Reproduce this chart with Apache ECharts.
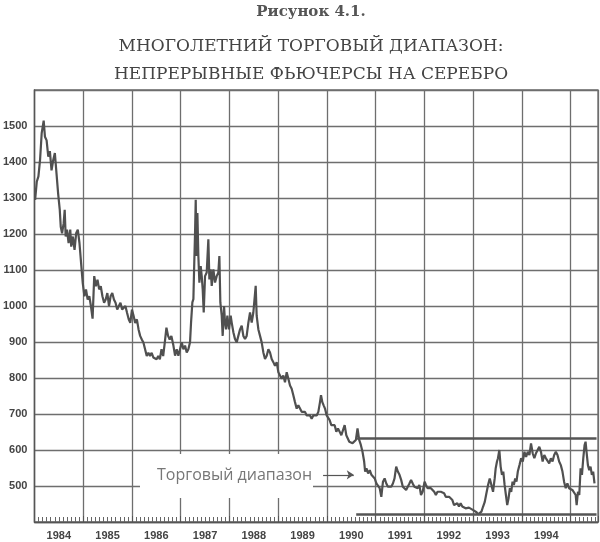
<!DOCTYPE html>
<html>
<head>
<meta charset="utf-8">
<script src="https://cdn.jsdelivr.net/npm/echarts@6/dist/echarts.min.js"></script>
<style>
html,body{margin:0;padding:0;background:#fff;}
#chart{width:600px;height:542px;}
</style>
</head>
<body>
<div id="chart"></div>
<script>
// ---- data ----
var figureLabel = 'Рисунок 4.1.';
var titleLines = ['МНОГОЛЕТНИЙ ТОРГОВЫЙ ДИАПАЗОН:', 'НЕПРЕРЫВНЫЕ ФЬЮЧЕРСЫ НА СЕРЕБРО'];
var annotationText = 'Торговый диапазон';
var yearLabels = [1984, 1985, 1986, 1987, 1988, 1989, 1990, 1991, 1992, 1993, 1994];
var yTickLabels = [500, 600, 700, 800, 900, 1000, 1100, 1200, 1300, 1400, 1500];

// time in fractional years
var dates = [
 1984.013,1984.047,1984.081,1984.114,1984.148,1984.189,1984.215,1984.249,1984.283,1984.316,
 1984.350,1984.384,1984.418,1984.451,1984.485,1984.519,1984.539,1984.566,1984.599,1984.620,
 1984.640,1984.667,1984.700,1984.734,1984.754,1984.788,1984.822,1984.855,1984.889,1984.923,
 1984.956,1984.990,1985.024,1985.057,1985.091,1985.125,1985.158,1985.192,1985.226,1985.259,
 1985.293,1985.327,1985.360,1985.394,1985.428,1985.461,1985.495,1985.529,1985.562,1985.596,
 1985.630,1985.663,1985.697,1985.731,1985.764,1985.798,1985.832,1985.865,1985.899,1985.933,
 1985.966,1986.000,1986.034,1986.067,1986.101,1986.135,1986.168,1986.202,1986.236,1986.269,
 1986.303,1986.337,1986.370,1986.404,1986.438,1986.471,1986.505,1986.539,1986.572,1986.606,
 1986.640,1986.673,1986.707,1986.741,1986.774,1986.808,
 1986.850,1986.884,1986.918,1986.952,1986.986,1987.021,1987.055,1987.089,1987.123,1987.157,
 1987.191,1987.212,1987.239,1987.260,1987.273,1987.294,1987.308,1987.321,1987.342,1987.362,
 1987.383,1987.410,1987.431,1987.451,1987.472,1987.499,1987.533,1987.567,1987.588,1987.615,
 1987.636,1987.670,1987.704,1987.738,1987.772,1987.793,1987.813,1987.841,1987.861,1987.889,
 1987.909,1987.930,1987.957,1987.991,1988.025,1988.046,1988.080,1988.114,1988.148,1988.182,
 1988.217,1988.251,1988.285,1988.319,1988.353,1988.388,1988.422,1988.456,1988.490,1988.538,
 1988.558,1988.593,1988.627,1988.661,1988.695,1988.729,1988.764,1988.798,1988.832,1988.866,
 1988.900,1988.934,1988.969,1989.003,1989.037,1989.071,1989.105,1989.139,1989.174,1989.208,
 1989.242,1989.276,1989.310,1989.344,1989.379,1989.413,1989.447,1989.481,1989.515,1989.550,
 1989.584,1989.618,1989.652,1989.686,1989.720,1989.755,1989.789,1989.823,1989.857,1989.878,
 1989.905,1989.932,1989.960,1989.994,
 1990.055,1990.089,1990.158,1990.192,1990.226,1990.260,1990.295,1990.329,1990.363,1990.397,
 1990.458,1990.492,1990.525,1990.559,1990.593,1990.627,1990.661,1990.695,1990.729,1990.763,
 1990.783,1990.810,1990.844,1990.878,1990.912,1990.946,1990.980,1991.014,1991.047,1991.081,
 1991.115,1991.149,1991.183,1991.217,1991.251,1991.285,1991.319,1991.353,1991.386,1991.420,
 1991.454,1991.488,1991.522,1991.556,1991.590,1991.624,1991.658,1991.692,1991.725,1991.759,
 1991.793,1991.827,1991.861,1991.895,1991.929,1991.963,1992.003,1992.031,1992.064,1992.098,
 1992.132,1992.166,1992.200,1992.234,1992.268,1992.302,1992.336,1992.369,1992.403,1992.437,
 1992.471,1992.505,1992.539,1992.573,1992.607,1992.641,1992.675,1992.708,1992.742,1992.776,
 1992.810,1992.844,1992.878,1992.912,1992.946,1993.000,1993.034,1993.068,1993.102,1993.136,
 1993.169,1993.203,1993.237,1993.271,1993.305,1993.339,1993.373,1993.407,1993.441,1993.461,
 1993.488,1993.508,1993.536,1993.563,1993.590,1993.617,1993.644,1993.671,1993.698,1993.725,
 1993.753,1993.780,1993.807,1993.834,1993.861,1993.888,1993.915,1993.949,1993.983,1994.017,
 1994.051,1994.085,1994.119,1994.153,1994.186,1994.220,1994.254,1994.288,1994.322,1994.356,
 1994.390,1994.424,1994.458,1994.492,1994.525,1994.559,1994.593,1994.627,1994.661,1994.695,
 1994.729,1994.763,1994.797,1994.831,1994.864,1994.898,1994.932,1994.966,1995.000,1995.034,
 1995.068,1995.102,1995.122,1995.149,1995.176,1995.203,1995.231,1995.258,1995.285,1995.305,
 1995.325,1995.353,1995.380,1995.407,1995.434,1995.461,1995.488
];
var prices = [
 1295,1345,1360,1405,1480,1515,1470,1460,1415,1430,
 1377,1405,1425,1370,1313,1267,1220,1202,1230,1267,
 1193,1212,1175,1212,1165,1193,1156,1202,1212,1175,
 1120,1064,1027,1046,1018,1027,1000,965,1083,1055,
 1073,1046,1055,1027,1009,1018,1036,1000,1027,1036,
 1018,1009,990,1000,1009,990,990,1000,981,963,
 953,990,972,953,963,935,917,907,898,880,
 861,870,861,870,857,861,852,861,852,880,
 861,898,940,917,907,917,
 890,862,880,862,880,899,880,890,871,880,
 899,954,1010,1019,1093,1203,1295,1139,1258,1139,
 1065,1111,1083,1046,982,1083,1093,1185,1074,1102,
 1056,1102,1065,1083,1093,1139,1010,973,917,1000,
 954,935,973,935,973,954,927,908,899,917,
 935,945,917,908,917,954,982,954,982,1056,
 973,935,917,899,871,853,862,880,871,853,
 844,834,844,816,807,798,807,788,816,798,
 779,770,752,733,715,724,715,706,710,706,
 696,701,696,687,696,692,696,706,733,752,
 733,724,715,696,
 683,669,669,651,660,651,641,655,669,641,
 623,628,619,623,628,660,628,614,595,568,
 540,549,535,544,531,535,521,507,503,494,
 470,512,521,507,498,503,498,507,521,554,
 540,531,517,498,494,489,498,507,517,507,
 498,503,494,503,475,484,512,503,494,498,
 494,489,484,475,484,489,484,489,480,470,
 475,470,466,461,447,443,452,443,452,443,
 447,438,443,440,442,433,429,427,421,418,
 429,443,456,480,503,521,503,484,521,549,
 568,577,600,554,531,540,503,475,447,466,
 494,484,512,503,521,512,540,558,577,568,
 595,581,595,586,618,591,577,591,586,609,
 595,568,586,577,581,563,577,568,586,595,
 586,568,558,540,512,494,507,494,498,489,
 494,475,447,484,475,549,531,577,614,623,
 595,558,544,554,531,540,507
];

// trading range lines
var rangeTop = 632;
var rangeBottom = 421;
var rangeFrom = 1990.6;
var rangeTo = 1995.53;
// annotation arrow (year, price)
var arrowFrom = [1989.92, 531];
var arrowTo = [1990.55, 531];

// ---- chart ----
var chart = echarts.init(document.getElementById('chart'), null, {renderer: 'canvas'});
var seriesData = dates.map(function (d, i) { return [d, prices[i]]; });
var yearLabelValues = yearLabels.map(function (y) { return y + 0.5; });
var gridColor = '#6e6e6e';

var option = {
  animation: false,
  backgroundColor: '#ffffff',
  grid: {left: 32, right: 2, top: 90, bottom: 20, show: true, borderColor: gridColor, borderWidth: 1.3, backgroundColor: 'transparent'},
  xAxis: {
    type: 'value', min: 1984, max: 1995.56, interval: 1,
    axisLine: {show: true, lineStyle: {color: '#555', width: 1.3}},
    axisTick: {show: true, inside: true, length: 6, lineStyle: {color: '#555', width: 1}},
    minorTick: {show: true, splitNumber: 12, length: 5, lineStyle: {color: '#666', width: 1}},
    axisLabel: {
      show: true, margin: 8, color: '#444', fontSize: 11, fontWeight: 'bold', fontFamily: 'Liberation Sans, Arial, sans-serif',
      customValues: yearLabelValues,
      formatter: function (v) { return String(Math.floor(v)); }
    },
    splitLine: {show: true, lineStyle: {color: gridColor, width: 1.3}}
  },
  yAxis: {
    type: 'value', min: 400, max: 1600, interval: 100,
    axisLine: {show: true, lineStyle: {color: '#555', width: 1.3}},
    axisTick: {show: false},
    axisLabel: {
      margin: 7, color: '#444', fontSize: 11, fontWeight: 'bold', fontFamily: 'Liberation Sans, Arial, sans-serif',
      formatter: function (v) { return yTickLabels.indexOf(v) >= 0 ? String(v) : ''; }
    },
    splitLine: {show: true, lineStyle: {color: gridColor, width: 1.3}}
  },
  graphic: [
    {type: 'text', style: {text: figureLabel, x: 311, y: 12, textAlign: 'center', textVerticalAlign: 'middle', font: 'bold 15px "DejaVu Serif", serif', fill: '#555'}},
    {type: 'text', style: {text: titleLines[0], x: 311, y: 47, textAlign: 'center', textVerticalAlign: 'middle', font: '17px "DejaVu Serif", serif', fill: '#444'}},
    {type: 'text', style: {text: titleLines[1], x: 311, y: 75, textAlign: 'center', textVerticalAlign: 'middle', font: '17px "DejaVu Serif", serif', fill: '#444'}},
    {type: 'rect', z: 50, shape: {x: 140, y: 454, width: 173, height: 44}, style: {fill: '#ffffff'}},
    {type: 'text', z: 51, style: {text: annotationText, x: 157, y: 475, textAlign: 'left', textVerticalAlign: 'middle', font: '16px "Open Sans", sans-serif', fill: '#777'}}
  ],
  series: [{
    type: 'line', name: 'Серебро',
    data: seriesData, showSymbol: false, symbol: 'none',
    lineStyle: {color: '#505050', width: 2.2},
    z: 5,
    markLine: {
      silent: true, symbol: ['none', 'arrow'], symbolSize: 7,
      label: {show: false},
      lineStyle: {color: '#555', width: 1.2, type: 'solid'},
      data: [[{coord: arrowFrom}, {coord: arrowTo}]]
    }
  }, {
    type: 'line', name: 'top',
    data: [[rangeFrom, rangeTop], [rangeTo, rangeTop]], symbol: 'none',
    lineStyle: {color: '#555', width: 2.6}, z: 6
  }, {
    type: 'line', name: 'bottom',
    data: [[rangeFrom, rangeBottom], [rangeTo, rangeBottom]], symbol: 'none',
    lineStyle: {color: '#555', width: 2.6}, z: 6
  }]
};
chart.setOption(option);
</script>
</body>
</html>
